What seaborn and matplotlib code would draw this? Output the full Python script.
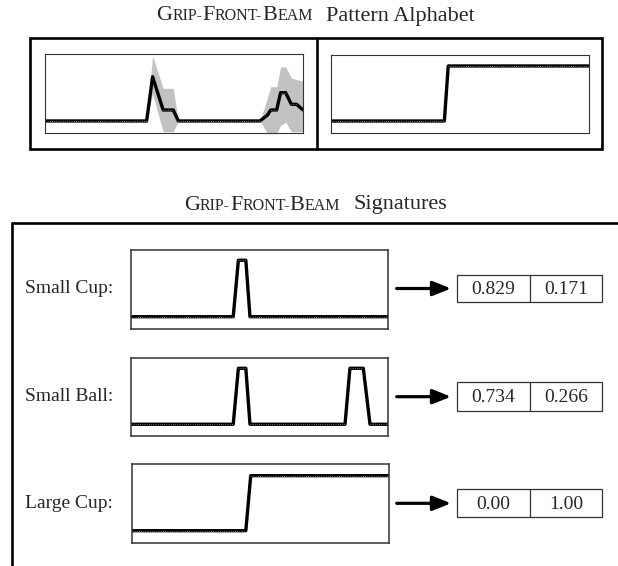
import seaborn as sns
import matplotlib.pyplot as plt

# -----------------------------------
# Data (x in % of the gesture, y in 0..1)
# -----------------------------------

# pattern alphabet, first pattern: mean line with spread band
alpha1_pct = [0, 39.4, 41.7, 45.8, 49.7, 51.7, 83.3, 86.2, 87.5, 89.8, 91.3, 93.3, 95.5, 97.5, 100]
alpha1_mean = [.156, .156, .716, .295, .295, .156, .156, .23, .295, .295, .514, .514, .367, .367, .295]
alpha1_lo = [.156, .156, .50, .02, .02, .156, .156, .0, .0, .0, .10, .14, .02, .02, .02]
alpha1_hi = [.156, .156, .98, .57, .57, .156, .156, .45, .59, .59, .84, .84, .70, .68, .66]

# pattern alphabet, second pattern
alpha2_pct = [0, 44.0, 45.5, 100]
alpha2_val = [.157, .157, .86, .86]

# signatures
objects = ["Small Cup:", "Small Ball:", "Large Cup:"]
cup_pct = [0, 39.8, 41.8, 44.7, 46.3, 100]
cup_val = [.15, .15, .87, .87, .15, .15]
ball_pct = [0, 39.8, 41.8, 44.7, 46.3, 83.2, 85.1, 90.3, 92.9, 100]
ball_val = [.15, .15, .865, .865, .15, .15, .865, .865, .15, .15]
large_pct = [0, 44.3, 46.2, 100]
large_val = [.153, .153, .855, .855]
weight_a = ["0.829", "0.734", "0.00"]
weight_b = ["0.171", "0.266", "1.00"]

sns.set_style("white")
plt.rcParams['font.family'] = ['Liberation Serif', 'DejaVu Serif']

W, H = 618, 566
fig = plt.figure(figsize=(6.18, 5.66), dpi=100)

# background axes in pixel coords for frames, arrows and boxes
bg = fig.add_axes([0, 0, 1, 1])
bg.set_xlim(0, W)
bg.set_ylim(H, 0)
bg.axis('off')


def px_axes(x0, y0, x1, y1):
    return fig.add_axes([x0 / W, 1 - y1 / H, (x1 - x0) / W, (y1 - y0) / H])


def draw_series(ax, x, y, lw_spine=0.9):
    sns.lineplot(x=x, y=y, ax=ax, color='black', lw=2.4, estimator=None, sort=False)
    # faint dotted texture on the flat stretches
    for j in range(len(x) - 1):
        if y[j] == y[j + 1]:
            ax.plot(x[j:j + 2], y[j:j + 2], color='white', lw=0.45, ls=(0, (1, 2.5)))
    ax.set_xlim(0, 100)
    ax.set_ylim(0, 1)
    ax.set_xticks([])
    ax.set_yticks([])
    ax.set_xlabel("")
    ax.set_ylabel("")
    for s in ax.spines.values():
        s.set_visible(True)
        s.set_linewidth(lw_spine)
        s.set_color('#333333')


def title_smallcaps(base_y, tail):
    renderer = fig.canvas.get_renderer()
    pieces = [("G", 16), ("RIP-", 11.5), ("F", 16), ("RONT-", 11.5), ("B", 16), ("EAM", 11.5),
              (None, 0), (tail, 16)]
    texts = []
    widths = []
    for s, size in pieces:
        if s is None:
            texts.append(None)
            widths.append(13)
            continue
        t = fig.text(0, 1 - base_y / H, s, fontsize=size, ha='left', va='baseline')
        texts.append(t)
        widths.append(t.get_window_extent(renderer).width)
    x = 315.5 - sum(widths) / 2
    for t, w in zip(texts, widths):
        if t is not None:
            t.set_x(x / W)
        x += w


# -----------------------------------
# 1. Pattern Alphabet
# -----------------------------------

title_smallcaps(20.5, "Pattern Alphabet")

bg.add_patch(plt.Rectangle((30, 37.7), 572.3, 111.6, fill=False, lw=1.9, ec='black'))
bg.plot([316.7, 316.7], [37.7, 149.3], color='black', lw=1.9)

ax1 = px_axes(45, 54.3, 303, 133.3)
ax1.fill_between(alpha1_pct, alpha1_lo, alpha1_hi, color='#c2c2c2', lw=0)
draw_series(ax1, alpha1_pct, alpha1_mean, lw_spine=0.8)

ax2 = px_axes(330.7, 55, 589, 133.3)
draw_series(ax2, alpha2_pct, alpha2_val, lw_spine=0.8)

# -----------------------------------
# 2. Signatures
# -----------------------------------

title_smallcaps(209.5, "Signatures")

bg.plot([11.7, W], [223.3, 223.3], color='black', lw=1.9)
bg.plot([11.7, 11.7], [223.3, H], color='black', lw=1.9)

rows = [
    (cup_pct, cup_val, (130.7, 250, 388.3, 328.5), 288.5, (275, 301.7)),
    (ball_pct, ball_val, (130.7, 357.7, 388.3, 436), 396.7, (382.3, 410.7)),
    (large_pct, large_val, (131.7, 464.3, 389.3, 542.7), 503.3, (489.3, 517.3)),
]

for i, (xs, ys, box, yc, (b0, b1)) in enumerate(rows):
    ax = px_axes(*box)
    draw_series(ax, xs, ys, lw_spine=1.1)

    bg.text(25, yc, objects[i], fontsize=14, ha='left', va='center')

    bg.annotate('', xy=(451, yc), xytext=(396.7, yc),
                arrowprops=dict(arrowstyle='-|>,head_length=0.55,head_width=0.22',
                                lw=2.3, color='black', mutation_scale=20,
                                shrinkA=0, shrinkB=0))

    bg.add_patch(plt.Rectangle((457.3, b0), 144.4, b1 - b0, fill=False, lw=0.9, ec='#333333'))
    bg.plot([530, 530], [b0, b1], color='#333333', lw=0.9)
    bg.text(493.6, (b0 + b1) / 2 + 1, weight_a[i], fontsize=14, ha='center', va='center')
    bg.text(565.8, (b0 + b1) / 2 + 1, weight_b[i], fontsize=14, ha='center', va='center')

plt.savefig("out.png", dpi=100)
